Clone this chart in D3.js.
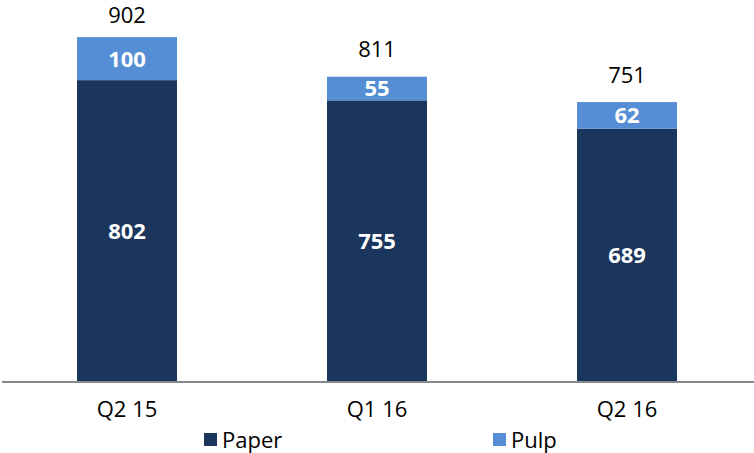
<!DOCTYPE html>
<html><head><meta charset="utf-8">
<script src="https://cdn.jsdelivr.net/npm/d3@7"></script>
<style>body{margin:0;background:#fff}svg{display:block;font-family:"Open Sans",sans-serif}</style>
</head><body><svg id="c" width="754" height="453"></svg>
<script>
const categories = ["Q2 15", "Q1 16", "Q2 16"];
const paper = [802, 755, 689];
const pulp = [100, 55, 62];
const totals = [902, 811, 751];
const seriesNames = ["Paper", "Pulp"];
const colors = ["#1B365D", "#558ED5"];

const svg = d3.select("#c");
const x = d3.scaleBand().domain(categories).range([2, 752]).paddingInner(0.6).paddingOuter(0.3);
const y = d3.scaleLinear().domain([100, 1000]).range([382, -5]);

const data = categories.map((c, i) => ({c, Paper: paper[i], Pulp: pulp[i], total: totals[i]}));
const stack = d3.stack().keys(seriesNames)(data);

const g = svg.append("g");
stack.forEach((s, si) => {
  g.selectAll(null).data(s).enter().append("rect")
    .attr("x", d => x(d.data.c))
    .attr("width", x.bandwidth())
    .attr("y", d => y(d[1]))
    .attr("height", d => y(Math.max(d[0], 100)) - y(d[1]))
    .attr("fill", colors[si]);
  g.selectAll(null).data(s).enter().append("text")
    .attr("x", d => x(d.data.c) + x.bandwidth() / 2)
    .attr("y", d => (y(Math.max(d[0], 100)) + y(d[1])) / 2)
    .attr("dy", "0.36em")
    .attr("text-anchor", "middle")
    .attr("fill", "#fff").attr("font-weight", "bold").attr("font-size", 22)
    .text(d => d[1] - d[0]);
});

g.selectAll(null).data(data).enter().append("text")
  .attr("x", d => x(d.c) + x.bandwidth() / 2)
  .attr("y", d => Math.max(y(d.total) - 19, 23))
  .attr("text-anchor", "middle").attr("font-size", 22).attr("fill", "#000")
  .text(d => d.total);

svg.append("line").attr("x1", 2).attr("x2", 754).attr("y1", 382).attr("y2", 382)
  .attr("stroke", "#898989").attr("stroke-width", 2);

const xAxis = svg.append("g").attr("transform", "translate(0,382)")
  .call(d3.axisBottom(x).tickSize(0).tickPadding(19));
xAxis.select(".domain").remove();
xAxis.selectAll("text").attr("font-size", 22).attr("fill", "#000").attr("font-family", "Open Sans, sans-serif");

const legendX = [204, 493];
seriesNames.forEach((n, i) => {
  const lg = svg.append("g").attr("transform", `translate(${legendX[i]},433)`);
  lg.append("rect").attr("width", 13).attr("height", 13).attr("fill", colors[i]);
  lg.append("text").attr("x", 18).attr("y", 7).attr("dy", "0.36em").attr("font-size", 22).attr("fill", "#000").text(n);
});
</script></body></html>
